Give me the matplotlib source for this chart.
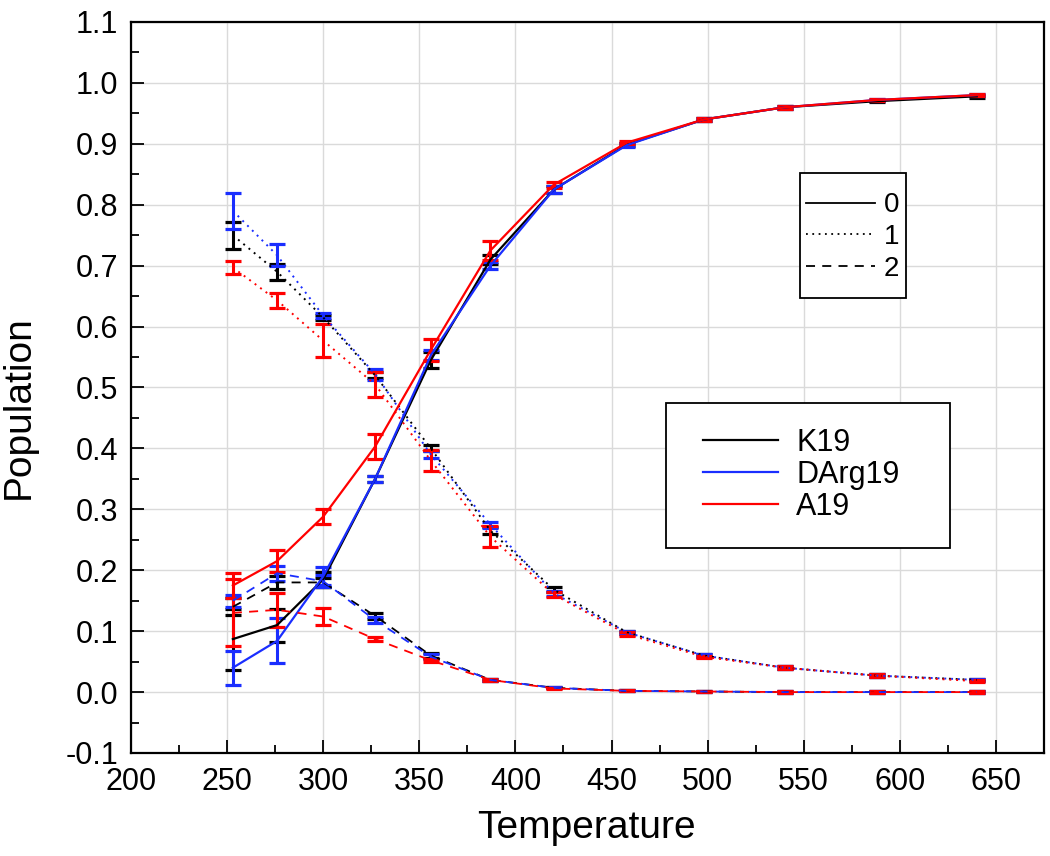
import matplotlib.pyplot as plt
from matplotlib.lines import Line2D
from matplotlib.patches import Rectangle
from matplotlib.ticker import MultipleLocator

plt.rcParams['font.family'] = ['Liberation Sans', 'DejaVu Sans']

temps = [253, 276, 300, 327, 356, 387, 420, 458, 498, 540, 588, 640]

# population of state 0 (solid)
k19_p0 = [0.087, 0.11, 0.185, 0.35, 0.545, 0.71, 0.825, 0.899, 0.94, 0.96, 0.97, 0.978]
k19_p0_err = [0.05, 0.027, 0.012, 0.005, 0.013, 0.008, 0.005, 0.003, 0.002, 0.002, 0.002, 0.002]
darg_p0 = [0.04, 0.084, 0.19, 0.35, 0.553, 0.70, 0.825, 0.898, 0.94, 0.96, 0.972, 0.98]
darg_p0_err = [0.028, 0.037, 0.015, 0.005, 0.008, 0.006, 0.005, 0.003, 0.002, 0.002, 0.002, 0.002]
a19_p0 = [0.175, 0.215, 0.288, 0.403, 0.562, 0.725, 0.833, 0.902, 0.94, 0.96, 0.972, 0.98]
a19_p0_err = [0.02, 0.018, 0.012, 0.02, 0.018, 0.015, 0.005, 0.003, 0.002, 0.002, 0.002, 0.002]

# population of state 1 (dotted)
k19_p1 = [0.75, 0.69, 0.615, 0.52, 0.40, 0.265, 0.168, 0.098, 0.06, 0.04, 0.027, 0.02]
k19_p1_err = [0.022, 0.013, 0.004, 0.005, 0.005, 0.006, 0.004, 0.003, 0.002, 0.002, 0.002, 0.002]
darg_p1 = [0.79, 0.717, 0.618, 0.522, 0.39, 0.275, 0.162, 0.098, 0.06, 0.04, 0.027, 0.02]
darg_p1_err = [0.03, 0.018, 0.004, 0.009, 0.005, 0.005, 0.004, 0.003, 0.002, 0.002, 0.002, 0.002]
a19_p1 = [0.697, 0.643, 0.577, 0.505, 0.38, 0.255, 0.16, 0.095, 0.058, 0.04, 0.027, 0.018]
a19_p1_err = [0.01, 0.012, 0.027, 0.021, 0.017, 0.017, 0.004, 0.003, 0.002, 0.002, 0.002, 0.002]

# population of state 2 (dashed)
k19_p2 = [0.14, 0.18, 0.18, 0.125, 0.06, 0.02, 0.007, 0.002, 0.001, 0.0, 0.0, 0.0]
k19_p2_err = [0.014, 0.01, 0.008, 0.005, 0.004, 0.002, 0.001, 0.001, 0.001, 0.001, 0.001, 0.001]
darg_p2 = [0.15, 0.195, 0.182, 0.118, 0.058, 0.02, 0.007, 0.002, 0.001, 0.0, 0.0, 0.0]
darg_p2_err = [0.01, 0.012, 0.01, 0.005, 0.004, 0.002, 0.001, 0.001, 0.001, 0.001, 0.001, 0.001]
a19_p2 = [0.13, 0.135, 0.124, 0.087, 0.052, 0.02, 0.006, 0.002, 0.001, 0.0, 0.0, 0.0]
a19_p2_err = [0.055, 0.028, 0.014, 0.003, 0.003, 0.002, 0.001, 0.001, 0.001, 0.001, 0.001, 0.001]

series = [
    ('K19', 'black', [(k19_p0, k19_p0_err), (k19_p1, k19_p1_err), (k19_p2, k19_p2_err)]),
    ('DArg19', '#1a2eff', [(darg_p0, darg_p0_err), (darg_p1, darg_p1_err), (darg_p2, darg_p2_err)]),
    ('A19', '#ff0000', [(a19_p0, a19_p0_err), (a19_p1, a19_p1_err), (a19_p2, a19_p2_err)]),
]
styles = ['-', (0, (1, 2.5)), (0, (5, 4))]
widths = [1.6, 1.4, 1.3]

W, H = 1050, 856
fig = plt.figure(figsize=(10.5, 8.56), dpi=100)
ax = fig.add_axes([131 / W, 1 - 753 / H, 913 / W, 731 / H])

for name, color, pops in series:
    for (vals, errs), ls, lw in zip(pops, styles, widths):
        ax.errorbar(temps, vals, yerr=errs, color=color, ls=ls, lw=lw,
                    elinewidth=2.2, capsize=6, capthick=2.3)

ax.set_xlim(200, 675)
ax.set_ylim(-0.1, 1.1)
ax.xaxis.set_major_locator(MultipleLocator(50))
ax.xaxis.set_minor_locator(MultipleLocator(25))
ax.yaxis.set_major_locator(MultipleLocator(0.1))
ax.yaxis.set_minor_locator(MultipleLocator(0.05))
ax.yaxis.set_major_formatter(plt.FuncFormatter(lambda v, p: '%.1f' % v))
ax.tick_params(which='major', direction='in', length=9.5, width=1.3, labelsize=22)
ax.tick_params(axis='x', which='major', pad=10)
ax.tick_params(axis='y', which='major', pad=9)
ax.tick_params(which='minor', direction='in', length=5.5, width=1.3)
ax.grid(True, color='#dadada', lw=1)
ax.set_axisbelow(True)
for s in ax.spines.values():
    s.set_linewidth(1.6)

fig.text(586 / W, 1 - 828 / H, 'Temperature', fontsize=28, ha='center', va='center')
fig.text(19 / W, 1 - 407 / H, 'Population', fontsize=28, rotation=90,
         ha='center', va='center')

# legend frames
for x0, y0, x1, y1 in [(800, 173, 906, 298), (666, 403, 950, 548)]:
    ax.add_patch(Rectangle((x0 / W, 1 - y1 / H), (x1 - x0) / W, (y1 - y0) / H,
                           transform=fig.transFigure, facecolor='white',
                           edgecolor='black', lw=1.3, zorder=4, clip_on=False))

style_handles = [Line2D([], [], color='black', ls=ls, lw=1.3) for ls in styles]
leg1 = ax.legend(style_handles, ['0', '1', '2'], loc='center left',
                 bbox_to_anchor=(806 / W, 1 - 237 / H), bbox_transform=fig.transFigure,
                 fontsize=20, frameon=False, handlelength=2.5, handletextpad=0.3,
                 borderpad=0, labelspacing=0.2, borderaxespad=0)
ax.add_artist(leg1)

name_handles = [Line2D([], [], color=c, lw=1.6) for _, c, _ in series]
leg2 = ax.legend(name_handles, [n for n, _, _ in series], loc='center left',
                 bbox_to_anchor=(703 / W, 1 - 475 / H), bbox_transform=fig.transFigure,
                 fontsize=22, frameon=False, handlelength=2.45, handletextpad=0.6,
                 borderpad=0, labelspacing=0.07, borderaxespad=0)

fig.savefig('out.png', dpi=100)
